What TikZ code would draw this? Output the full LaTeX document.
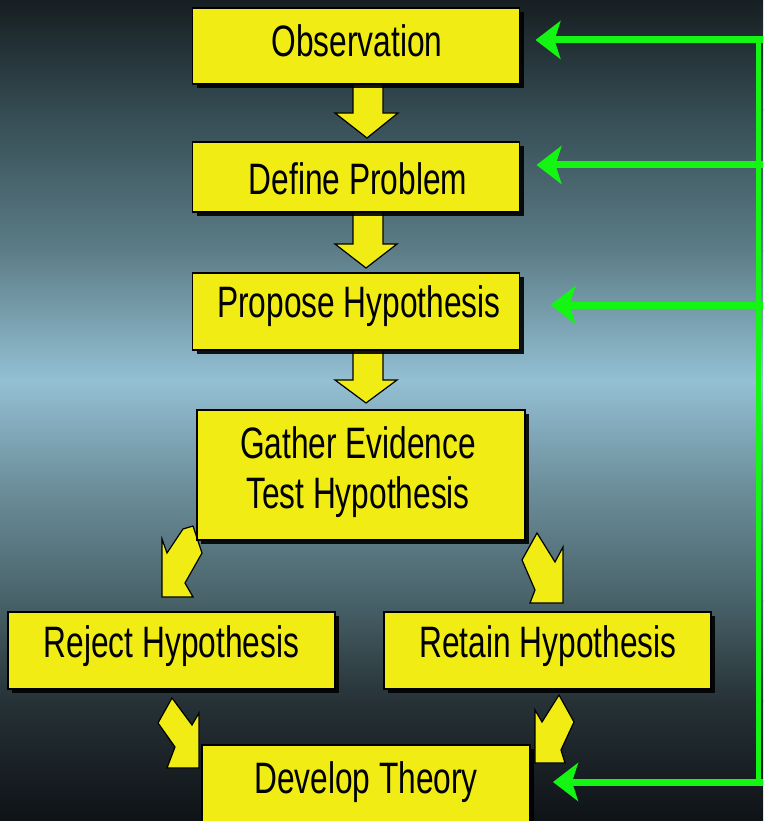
\documentclass[tikz,border=0pt]{standalone}
\usepackage{fontspec}
\setmainfont{Liberation Sans}
\usepackage{graphicx}
\usetikzlibrary{arrows.meta,shadows,calc}
\definecolor{boxyellow}{RGB}{240,236,20}
\definecolor{arrgreen}{RGB}{20,245,20}
\definecolor{bgA}{RGB}{22,30,33}
\definecolor{bgB}{RGB}{52,75,82}
\definecolor{bgC}{RGB}{92,125,135}
\definecolor{bgD}{RGB}{148,192,212}
\definecolor{bgE}{RGB}{110,145,158}
\definecolor{bgF}{RGB}{72,98,105}
\definecolor{bgG}{RGB}{38,50,55}
\definecolor{bgH}{RGB}{14,18,22}
\newcommand{\sq}[1]{\scalebox{0.72}[1]{#1}}
\tikzset{
  box/.style={draw=black, line width=1.5pt, fill=boxyellow, rectangle, inner sep=0pt, outer sep=0pt,
    drop shadow={shadow xshift=4pt, shadow yshift=-4pt, opacity=0.9, fill=black}},
  txt/.style={inner sep=0pt, font=\fontsize{44}{50}\selectfont, text height=32pt, text depth=9pt},
  twotxt/.style={inner sep=0pt, align=center, font=\fontsize{44}{50}\selectfont},
  blockarrow/.style={fill=boxyellow, draw=black, line width=1.2pt, line join=miter},
  grnline/.style={draw=arrgreen, line width=5pt},
  grnarrow/.style={draw=arrgreen, line width=7pt, -{Stealth[length=25pt,width=38pt,inset=6pt]}}
}
\begin{document}
\begin{tikzpicture}[x=1pt,y=-1pt]
\clip (0,0) rectangle (763,821);
% background gradient
\shade[top color=bgA, bottom color=bgB] (0,-1) rectangle (763,111);
\shade[top color=bgB, bottom color=bgC] (0,110) rectangle (763,251);
\shade[top color=bgC, bottom color=bgD] (0,250) rectangle (763,381);
\shade[top color=bgD, bottom color=bgE] (0,380) rectangle (763,481);
\shade[top color=bgE, bottom color=bgF] (0,480) rectangle (763,601);
\shade[top color=bgF, bottom color=bgG] (0,600) rectangle (763,701);
\shade[top color=bgG, bottom color=bgH] (0,700) rectangle (763,822);

% down block arrows
\draw[blockarrow] (353,84) -- (383,84) -- (383,113) -- (398,113) -- (367,138) -- (335,113) -- (353,113) -- cycle;
\draw[blockarrow] (353,210) -- (383,210) -- (383,244) -- (397,244) -- (366,268) -- (335,244) -- (353,244) -- cycle;
\draw[blockarrow] (353,348) -- (383,348) -- (383,380) -- (397,380) -- (366,403) -- (335,380) -- (353,380) -- cycle;
% diagonal block arrows
\draw[blockarrow] (162,597) -- (162,539) -- (167,553) -- (183,529) -- (193,526) -- (202,553) -- (185,583) -- (193,597) -- cycle;
\draw[blockarrow] (563,603) -- (563,547) -- (555,562) -- (537,533) -- (522,560) -- (535,590) -- (530,603) -- cycle;
\draw[blockarrow] (199,768) -- (199,713) -- (192,725) -- (172,698) -- (158,723) -- (175,747) -- (167,768) -- cycle;
\draw[blockarrow] (535,763) -- (535,710) -- (542,722) -- (559,695) -- (574,722) -- (561,750) -- (565,763) -- cycle;

% boxes
\node[box, minimum width=327pt, minimum height=76pt] (obs) at (356,46) {};
\node[box, minimum width=327pt, minimum height=70pt] (def) at (356,177) {};
\node[box, minimum width=327pt, minimum height=77pt] (prop) at (356,311.5) {};
\node[box, minimum width=328pt, minimum height=130pt] (gath) at (361,475) {};
\node[box, minimum width=327pt, minimum height=77pt] (rej) at (171.5,650.5) {};
\node[box, minimum width=327pt, minimum height=77pt] (ret) at (547.5,650.5) {};
\node[box, minimum width=328pt, minimum height=90pt] (dev) at (366,790) {};

% texts
\node[txt] (obst) at (357,45.5) {\sq{Observation}};
\node[txt] (deft) at (358,183) {\sq{Define Problem}};
\node[txt] (propt) at (359,306) {\sq{Propose Hypothesis}};
\node[twotxt] (gatht) at (358,472) {\sq{Gather Evidence}\\\sq{Test Hypothesis}};
\node[txt] (rejt) at (171.5,646) {\sq{Reject Hypothesis}};
\node[txt] (rett) at (548,646) {\sq{Retain Hypothesis}};
\node[txt] (devt) at (366,782) {\sq{Develop Theory}};

% green feedback arrows
\coordinate (r1) at (758,40);
\coordinate (r2) at (758,165);
\coordinate (r3) at (758,305);
\coordinate (r4) at (758,782);
\draw[grnline] (r1) -- (r4);
\draw[grnarrow, shorten >=16pt] ($(r1)+(8,0)$) -- (r1 -| obs.east);
\draw[grnarrow, shorten >=17pt] ($(r2)+(8,0)$) -- (r2 -| def.east);
\draw[grnarrow, shorten >=31pt] ($(r3)+(8,0)$) -- (r3 -| prop.east);
\draw[grnarrow, shorten >=23pt] ($(r4)+(8,0)$) -- (r4 -| dev.east);
\end{tikzpicture}
\end{document}
